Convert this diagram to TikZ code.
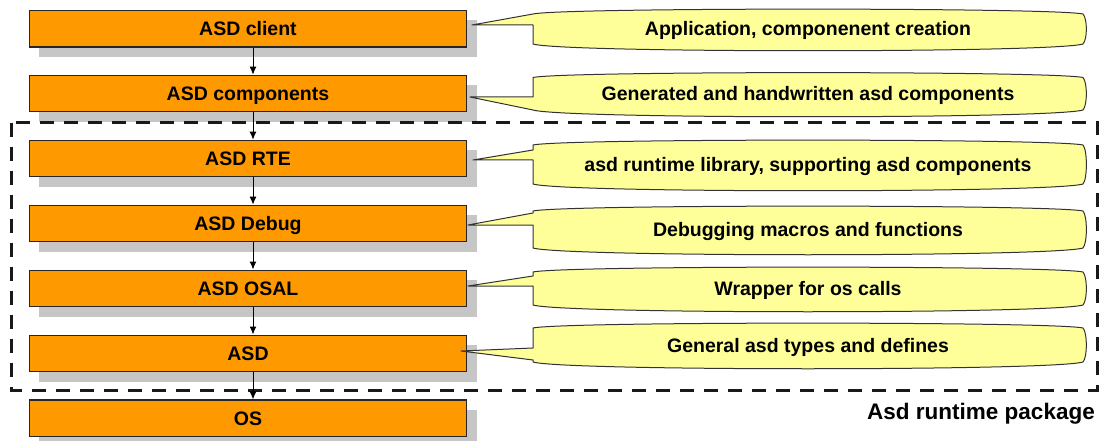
\documentclass[tikz,border=0pt]{standalone}
\usepackage{fontspec}
\setmainfont{Liberation Sans}
\usetikzlibrary{arrows.meta,shadows}

\definecolor{boxorange}{HTML}{FF9900}
\definecolor{noteyellow}{HTML}{FFFF99}
\definecolor{shadowgray}{HTML}{C6C6C6}

\tikzset{
  layer/.style={draw=black!85, line width=1.1pt, fill=boxorange,
    minimum width=437.4pt, minimum height=36.7pt, inner sep=0pt,
    text height=14pt, text depth=0pt,
    font=\fontsize{19.5}{22}\selectfont\bfseries,
    general shadow={fill=shadowgray, shadow xshift=10pt, shadow yshift=-10pt}},
  flow/.style={line width=1pt, -{Latex[length=8pt,width=7pt]}},
  notebody/.style={draw=black!80, line width=1pt, fill=noteyellow, line join=round},
  notetext/.style={font=\fontsize{19.5}{22}\selectfont\bfseries, inner sep=0pt,
    text height=14pt, text depth=0pt},
  package/.style={draw=black!90, line width=3pt, dash pattern=on 14pt off 10pt},
  packagelabel/.style={font=\fontsize{22.5}{26}\selectfont\bfseries, inner sep=0pt,
    anchor=east},
}

% #1 name, #2 top, #3 bottom, #4/#5 pointer tip, #6/#7 upper/lower wedge base, #8 text
\newcommand\notecallout[8]{%
  \draw[notebody] (533,#2) .. controls (563,{#2-6.5}) and (1053,{#2-6.5}) .. (1083,#2)
    .. controls (1087.5,{#2+5}) and (1087.5,{#3-5}) .. (1083,#3)
    .. controls (1053,{#3+9}) and (563,{#3+9}) .. (533,#3)
    -- (533,#7) -- (#4,#5) -- (533,#6) -- cycle;
  \node[notetext] (#1) at (808,{(#2+#3)/2}) {#8};
}

\begin{document}
\begin{tikzpicture}[x=1pt, y=-1pt]
  \useasboundingbox (0,0) rectangle (1101,441);

  % software layers
  \node[layer] (client) at (248,28.7)  {ASD client};
  \node[layer] (comp)   at (248,93.6)  {ASD components};
  \node[layer] (rte)    at (248,158.6) {ASD RTE};
  \node[layer] (debug)  at (248,223.5) {ASD Debug};
  \node[layer] (osal)   at (248,288.4) {ASD OSAL};
  \node[layer] (asd)    at (248,353.4) {ASD};
  \node[layer] (os)     at (248,418.3) {OS};

  % descriptions
  \notecallout{nclient}{14}{44}{472}{25}{14}{25}{Application, componenent creation}
  \notecallout{ncomp}{77.5}{110}{470}{97}{97}{110}{Generated and handwritten asd components}
  \notecallout{nrte}{145}{184}{473}{160}{150}{160}{asd runtime library, supporting asd components}
  \notecallout{ndebug}{211}{248}{468}{225}{213}{225}{Debugging macros and functions}
  \notecallout{nosal}{272}{305}{468}{286}{276}{286}{Wrapper for os calls}
  \notecallout{nasd}{328}{362}{461}{351}{348}{360}{General asd types and defines}

  % runtime package boundary
  \draw[package] (11,122.7) rectangle (1097,390);
  \node[packagelabel] (pkg) at (1095,414) {Asd runtime package};

  % dependencies
  \foreach \a/\b in {client/comp, comp/rte, rte/debug, debug/osal, osal/asd, asd/os}
    \draw[flow] ([xshift=5pt]\a.south) -- ([xshift=5pt]\b.north);
\end{tikzpicture}
\end{document}
